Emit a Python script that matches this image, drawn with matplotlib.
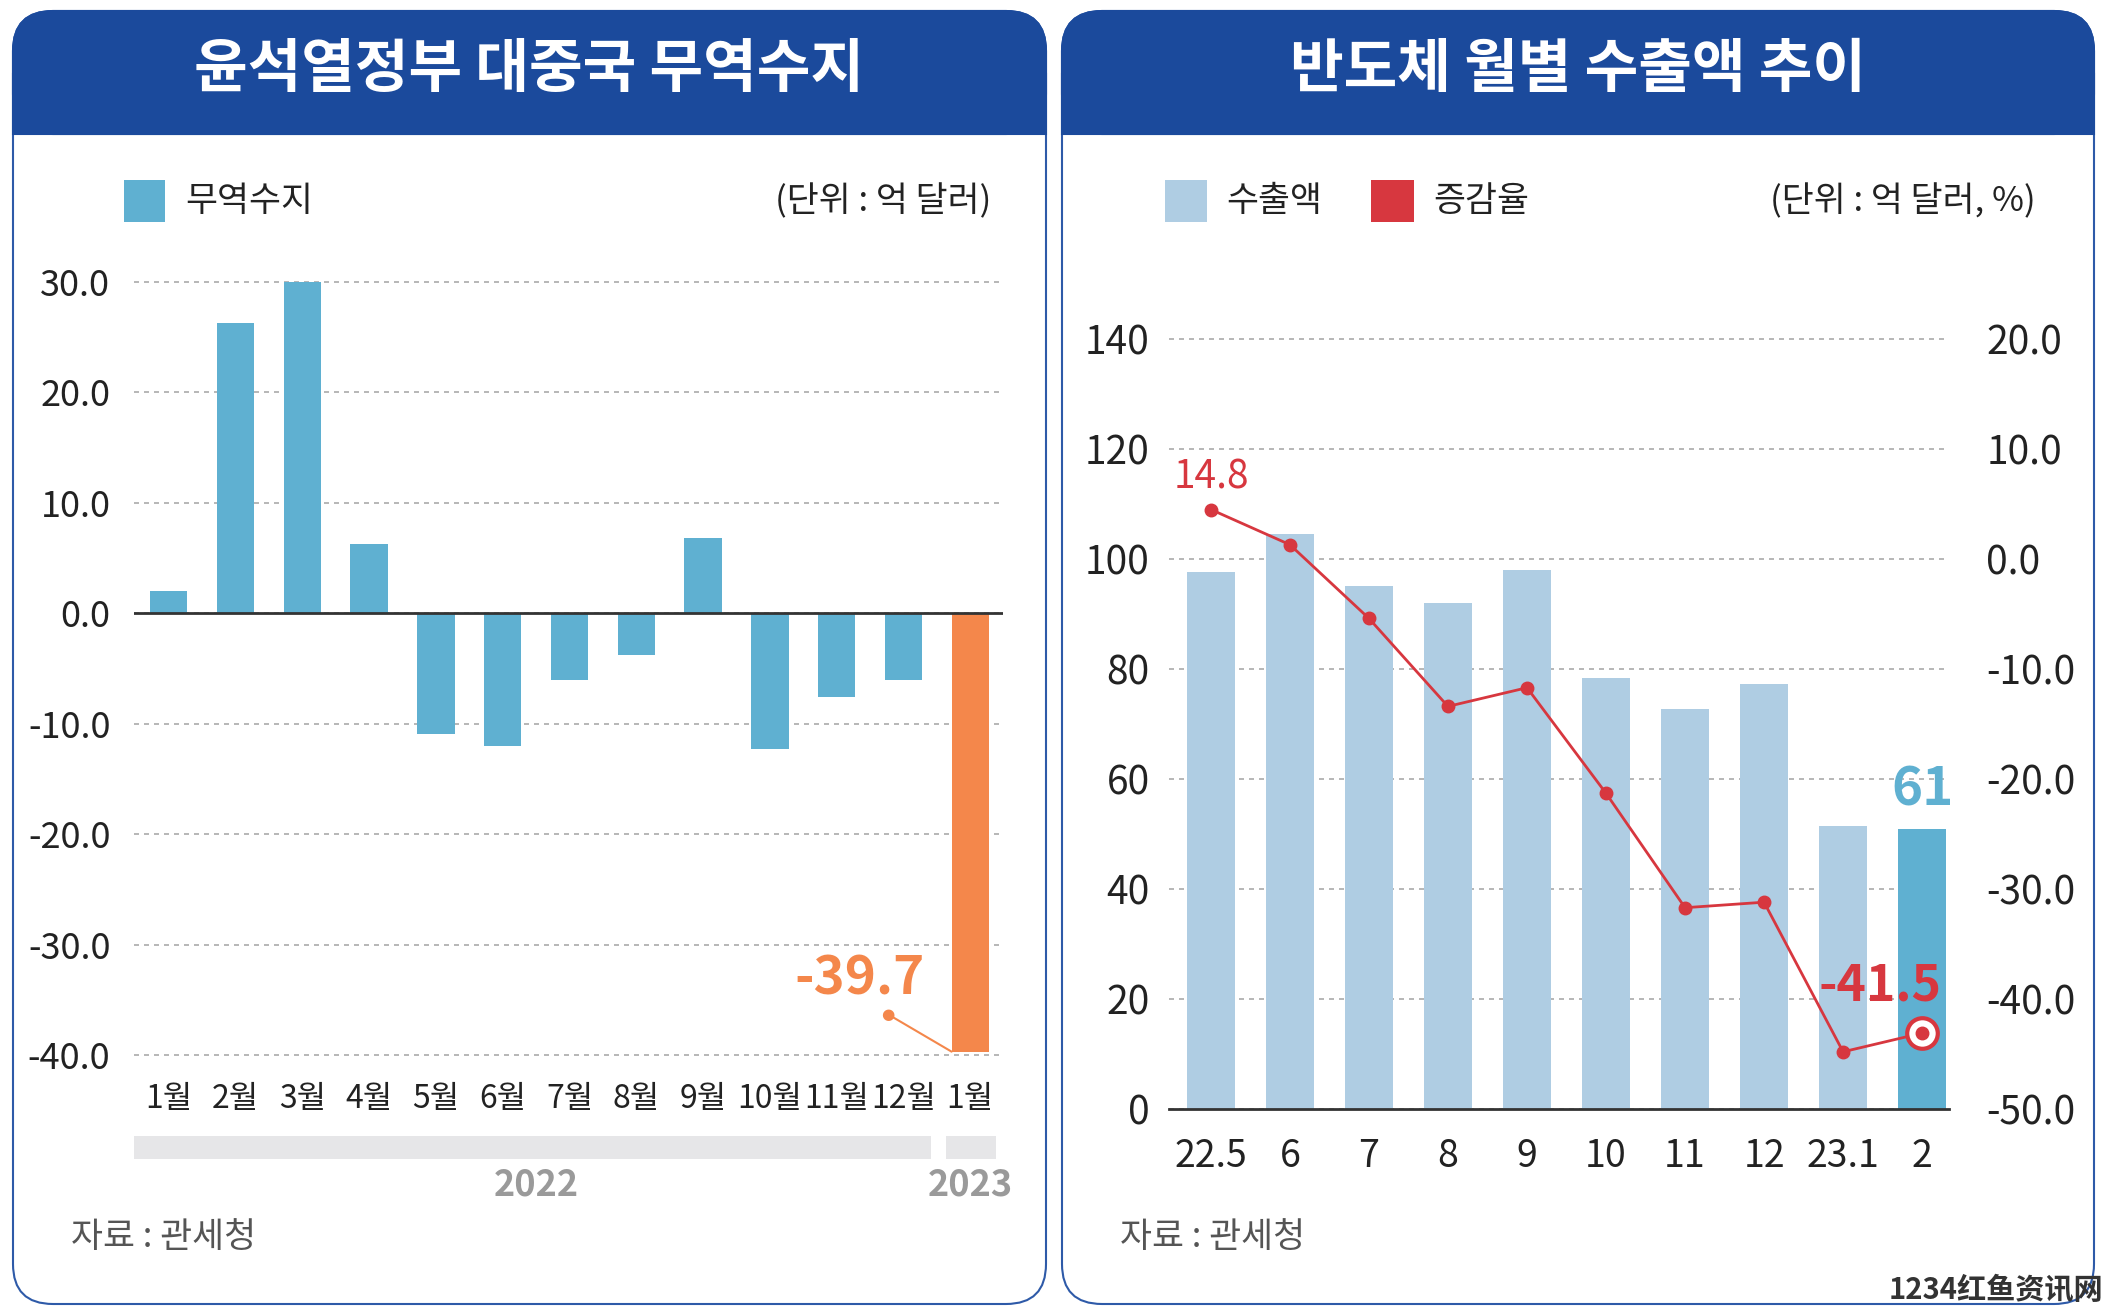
import numpy as np
import matplotlib.pyplot as plt
from matplotlib.patches import FancyBboxPatch, Rectangle
from matplotlib.transforms import blended_transform_factory

plt.rcParams['font.family'] = ['Noto Sans CJK KR', 'DejaVu Sans']

# left chart: trade balance with China (억 달러)
months = ['1월', '2월', '3월', '4월', '5월', '6월', '7월', '8월', '9월',
          '10월', '11월', '12월', '1월']
trade = [2.0, 26.3, 30.0, 6.3, -10.9, -12.0, -6.0, -3.8, 6.8, -12.3, -7.6, -6.0, -39.7]
years = ['2022', '2023']
year_spans = [(0, 11), (12, 12)]

# right chart: semiconductor exports (억 달러) and growth (%)
periods = ['22.5', '6', '7', '8', '9', '10', '11', '12', '23.1', '2']
exports = [97.6, 104.6, 95.1, 92.0, 98.0, 78.3, 72.7, 77.3, 51.5, 50.9]
growth = [4.5, 1.3, -5.4, -13.4, -11.7, -21.3, -31.7, -31.2, -44.8, -43.1]
growth_first_label = '14.8'
growth_last_label = '-41.5'
export_last_label = '61'

W, H = 2108, 1316
HEADER = '#1B4A9C'
BAR_BLUE = '#5FB0D1'
ORANGE = '#F4874B'
LIGHT = '#AFCDE3'
RED = '#D7373F'
TXT = '#222222'

fig = plt.figure(figsize=(W / 100, H / 100), dpi=100)


def fx(x):
    return x / W


def fy(y):
    return 1 - y / H


def panel(x0, x1, title):
    r = 40
    box = FancyBboxPatch((fx(x0), fy(1304)), fx(x1 - x0), (1304 - 11) / H,
                         boxstyle=f'round,pad=0,rounding_size={r / W}',
                         mutation_aspect=W / H, transform=fig.transFigure,
                         facecolor='white', edgecolor='#2E5AA8', lw=1.5, zorder=-3)
    fig.patches.append(box)
    head = FancyBboxPatch((fx(x0), fy(134)), fx(x1 - x0), (134 - 11) / H,
                          boxstyle=f'round,pad=0,rounding_size={r / W}',
                          mutation_aspect=W / H, transform=fig.transFigure,
                          facecolor=HEADER, edgecolor=HEADER, lw=1.5, zorder=-2)
    fig.patches.append(head)
    fig.patches.append(Rectangle((fx(x0), fy(134)), fx(x1 - x0), 60 / H,
                                 transform=fig.transFigure, facecolor=HEADER,
                                 edgecolor=HEADER, lw=1.5, zorder=-2))
    fig.text(fx((x0 + x1) / 2), fy(70), title, color='white', fontsize=42,
             fontweight='bold', ha='center', va='center', zorder=3)


panel(13, 1046, '윤석열정부 대중국 무역수지')
panel(1062, 2094, '반도체 월별 수출액 추이')

# ---------------- left chart ----------------
ax1 = fig.add_axes([fx(134), fy(1066), fx(1003 - 134), (1066 - 271) / H])
ax1.patch.set_alpha(0)
x1 = np.arange(len(trade))
bw1 = 0.56
colors1 = [BAR_BLUE] * (len(trade) - 1) + [ORANGE]
ax1.bar(x1, trade, width=bw1, color=colors1, zorder=3)
ax1.set_xlim(-0.52, 12.49)
ax1.set_ylim(-41, 31)
yt = np.arange(-40, 31, 10)
ax1.set_yticks(yt)
ax1.set_yticklabels([f'{v:.1f}' for v in yt])
ax1.set_xticks(x1)
ax1.set_xticklabels(months)
ax1.tick_params(axis='y', length=0, pad=17, labelsize=26, labelcolor=TXT)
ax1.tick_params(axis='x', length=0, pad=12, labelsize=23, labelcolor=TXT)
for s in ax1.spines.values():
    s.set_visible(False)
ax1.grid(axis='y', color='#AAAAAA', ls=(0, (3, 3)), lw=1.2, zorder=1)
ax1.axhline(0, color='#333333', lw=2, zorder=4)

# year bands under the month labels
tb = blended_transform_factory(ax1.transData, fig.transFigure)
for (a, b), yr in zip(year_spans, years):
    left = a - 0.52 if a == 0 else a - 0.37
    right = b + 0.41 if b < 12 else b + 0.39
    ax1.add_patch(Rectangle((left, fy(1159)), right - left, 23 / H, transform=tb,
                            facecolor='#E6E6E8', edgecolor='none', clip_on=False))
    ax1.text((a + b) / 2, fy(1185), yr, transform=tb, ha='center', va='center',
             fontsize=26, fontweight='bold', color='#9A9A9A')

# -39.7 callout
lx = x1[-1] - bw1 / 2
ax1.annotate('', xy=(lx, trade[-1]), xytext=(-46, 27), textcoords='offset points',
             arrowprops=dict(arrowstyle='-', color=ORANGE, lw=1.5,
                             shrinkA=0, shrinkB=0), zorder=5)
ax1.annotate('●', xy=(lx, trade[-1]), xytext=(-46, 27), textcoords='offset points',
             ha='center', va='center', fontsize=11, color=ORANGE,
             family=['DejaVu Sans'], zorder=6)
ax1.annotate(f'{trade[-1]:.1f}', xy=(lx, trade[-1]), xytext=(-66, 52),
             textcoords='offset points', ha='center', va='center', fontsize=38,
             fontweight='heavy', color=ORANGE, zorder=6)

# legend + unit
fig.patches.append(Rectangle((fx(124), fy(222)), fx(41), 42 / H,
                             transform=fig.transFigure, facecolor=BAR_BLUE))
fig.text(fx(185), fy(202), '무역수지', fontsize=25, color=TXT, va='center')
fig.text(fx(991), fy(202), '(단위 : 억 달러)', fontsize=25, color=TXT,
         va='center', ha='right')
fig.text(fx(71), fy(1237), '자료 : 관세청', fontsize=25, color='#555555', va='center')

# ---------------- right chart ----------------
ax2 = fig.add_axes([fx(1169), fy(1109), fx(1949 - 1169), (1109 - 322.5) / H])
ax2.patch.set_alpha(0)
x2 = np.arange(len(exports))
bw2 = 0.61
colors2 = [LIGHT] * (len(exports) - 1) + [BAR_BLUE]
ax2.bar(x2, exports, width=bw2, color=colors2, zorder=3)
ax2.set_xlim(-0.53, 9.34)
ax2.set_ylim(0, 143)
yt2 = np.arange(0, 141, 20)
ax2.set_yticks(yt2)
ax2.set_yticklabels([f'{v:d}' for v in yt2])
ax2.set_xticks(x2)
ax2.set_xticklabels(periods)
ax2.tick_params(axis='y', length=0, pad=14, labelsize=28, labelcolor=TXT)
ax2.tick_params(axis='x', length=0, pad=20, labelsize=27, labelcolor=TXT)
for s in ax2.spines.values():
    s.set_visible(False)
ax2.grid(axis='y', color='#AAAAAA', ls=(0, (3, 3)), lw=1.2, zorder=1)
ax2.axhline(0, color='#333333', lw=2, zorder=4, clip_on=False)
ax2.annotate(export_last_label, xy=(x2[-1], exports[-1]), xytext=(0, 28),
             textcoords='offset points', ha='center', va='center', fontsize=38,
             fontweight='heavy', color=BAR_BLUE)

ax3 = ax2.twinx()
ax3.set_ylim(-50, -50 + 143 / 2)
yt3 = np.arange(-50, 21, 10)
ax3.set_yticks(yt3)
ax3.set_yticklabels([f'{v:.1f}' for v in yt3])
ax3.tick_params(axis='y', length=0, pad=27, labelsize=28, labelcolor=TXT)
for s in ax3.spines.values():
    s.set_visible(False)
ax3.plot(x2, growth, color=RED, lw=2, marker='o', ms=9, zorder=5)
ax3.plot(x2[-1], growth[-1], marker='o', ms=22, mfc='white', mec=RED, mew=3, zorder=6)
ax3.plot(x2[-1], growth[-1], marker='o', ms=9, color=RED, zorder=7)
ax3.annotate(growth_first_label, xy=(x2[0], growth[0]), xytext=(0, 23),
             textcoords='offset points', ha='center', va='center', fontsize=28,
             color=RED)
ax3.annotate(growth_last_label, xy=(x2[-1], growth[-1]), xytext=(-30, 34),
             textcoords='offset points', ha='center', va='center', fontsize=36,
             fontweight='heavy', color=RED)

fig.patches.append(Rectangle((fx(1165), fy(222)), fx(42), 42 / H,
                             transform=fig.transFigure, facecolor=LIGHT))
fig.text(fx(1226), fy(202), '수출액', fontsize=25, color=TXT, va='center')
fig.patches.append(Rectangle((fx(1371), fy(222)), fx(43), 42 / H,
                             transform=fig.transFigure, facecolor=RED))
fig.text(fx(1433), fy(202), '증감율', fontsize=25, color=TXT, va='center')
fig.text(fx(2036), fy(202), '(단위 : 억 달러, %)', fontsize=25, color=TXT,
         va='center', ha='right')
fig.text(fx(1120), fy(1237), '자료 : 관세청', fontsize=25, color='#555555', va='center')

fig.text(fx(1996), fy(1290), '1234红鱼资讯网', fontsize=21, fontweight='bold',
         color='#333333', ha='center', va='center',
         family=['Noto Sans CJK SC', 'DejaVu Sans'])

fig.savefig('out.png', dpi=100)
